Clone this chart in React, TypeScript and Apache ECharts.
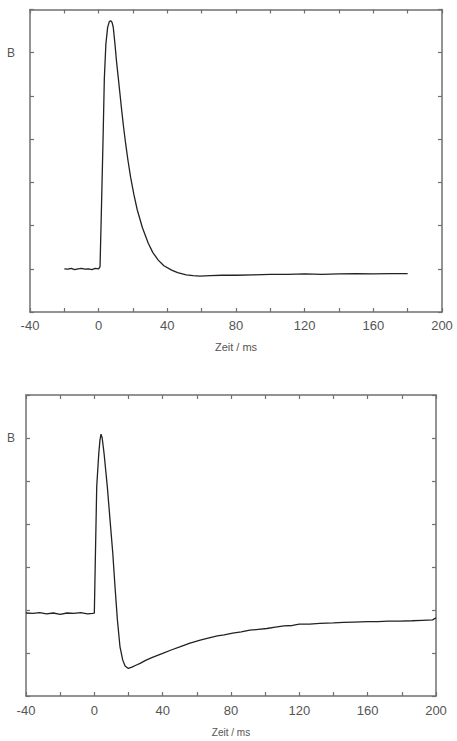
import React, { useEffect, useRef } from "react";
import * as echarts from "echarts";

// Top panel: time (ms) and signal (arbitrary units; tick 6 = "B")
const topTime = [-20, -18, -16, -14, -12, -10, -8, -6, -4, -2, 0, 0.8, 1.5, 2.5, 3.3, 4.2, 5.2, 6.2, 7.0, 7.8, 8.5, 9.5, 10.4, 11.4, 12.4, 13.4, 14.5, 15.7, 17.1, 18.6, 20.5, 22.5, 25.5, 28.9, 31.5, 34.7, 38, 42.5, 46, 51, 55, 59, 65, 72, 80, 90, 100, 110, 120, 130, 140, 150, 160, 170, 180];
const topValue = [1.0, 0.99, 1.01, 0.98, 1.0, 1.01, 0.99, 1.0, 0.98, 1.01, 1.0, 1.05, 2.2, 3.9, 5.4, 6.2, 6.58, 6.72, 6.74, 6.7, 6.59, 6.2, 5.8, 5.43, 5.05, 4.67, 4.28, 3.9, 3.5, 3.12, 2.72, 2.36, 1.95, 1.59, 1.38, 1.2, 1.07, 0.97, 0.91, 0.86, 0.84, 0.83, 0.84, 0.85, 0.85, 0.86, 0.87, 0.87, 0.88, 0.87, 0.88, 0.89, 0.88, 0.89, 0.89];

// Bottom panel
const bottomTime = [-40, -36, -32, -28, -24, -20, -16, -12, -8, -4, -1, 0, 0.5, 1.4, 2.6, 3.3, 3.9, 4.6, 5.7, 7.6, 9.2, 10.8, 12.1, 13.5, 15.0, 16.6, 18.0, 19.9, 22, 24, 26.8, 30, 34, 40, 45, 50, 56, 62, 66, 72, 76, 81, 86, 91, 96, 101, 106, 111, 116, 120, 126, 132, 140, 146, 152, 160, 166, 172, 179, 186, 192, 198, 200];
const bottomValue = [1.93, 1.92, 1.94, 1.91, 1.93, 1.9, 1.93, 1.92, 1.94, 1.91, 1.92, 1.93, 3.0, 4.87, 5.64, 5.95, 6.09, 6.0, 5.64, 4.87, 4.09, 3.32, 2.54, 1.77, 1.15, 0.84, 0.7, 0.64, 0.67, 0.71, 0.76, 0.83, 0.9, 0.99, 1.07, 1.14, 1.23, 1.3, 1.34, 1.4, 1.42, 1.46, 1.49, 1.53, 1.55, 1.57, 1.6, 1.63, 1.64, 1.67, 1.67, 1.69, 1.7, 1.71, 1.72, 1.73, 1.73, 1.74, 1.74, 1.75, 1.76, 1.77, 1.82];

const xTickLabels = [-40, 0, 40, 80, 120, 160, 200];
const yLabelLevel = 6;
const yLabelText = "B";
const xAxisName = "Zeit / ms";

const AXIS_COLOR = "#707070";
const TEXT_COLOR = "#555555";
const FONT = "'Liberation Sans', Arial, sans-serif";

export default function App() {
  const ref = useRef<HTMLDivElement>(null);

  useEffect(() => {
    if (!ref.current) return;
    const chart = echarts.init(ref.current, undefined, { renderer: "svg" });

    const axisLine = { show: true, onZero: false, lineStyle: { color: AXIS_COLOR, width: 1.5 } };
    const axisTick = { show: true, inside: true, length: 4, lineStyle: { color: AXIS_COLOR, width: 1.2 } };

    const xBottom = (gridIndex: number, labelMargin: number, nameGap: number, nameSize: number) => ({
      type: "value",
      gridIndex,
      position: "bottom",
      min: -40,
      max: 200,
      interval: 20,
      axisLine,
      axisTick,
      splitLine: { show: false },
      axisLabel: {
        margin: labelMargin,
        fontSize: 13,
        fontFamily: FONT,
        color: TEXT_COLOR,
        formatter: (v: number) => (xTickLabels.indexOf(v) >= 0 ? String(v) : ""),
      },
      name: xAxisName,
      nameLocation: "middle",
      nameGap,
      nameTextStyle: { fontSize: nameSize, fontFamily: FONT, color: TEXT_COLOR },
    });
    const xTop = (gridIndex: number) => ({
      type: "value",
      gridIndex,
      position: "top",
      min: -40,
      max: 200,
      interval: 20,
      axisLine,
      axisTick,
      splitLine: { show: false },
      axisLabel: { show: false },
    });
    const yLeft = (gridIndex: number, labelMargin: number) => ({
      type: "value",
      gridIndex,
      position: "left",
      min: 0,
      max: 7,
      interval: 1,
      axisLine,
      axisTick,
      splitLine: { show: false },
      axisLabel: {
        margin: labelMargin,
        fontSize: 12,
        fontFamily: FONT,
        color: TEXT_COLOR,
        formatter: (v: number) => (v === yLabelLevel ? yLabelText : ""),
      },
    });
    const yRight = (gridIndex: number) => ({
      type: "value",
      gridIndex,
      position: "right",
      min: 0,
      max: 7,
      interval: 1,
      axisLine,
      axisTick,
      splitLine: { show: false },
      axisLabel: { show: false },
    });

    const topData = topTime.map((t, i) => [t, topValue[i]]);
    const bottomData = bottomTime.map((t, i) => [t, bottomValue[i]]);

    chart.setOption({
      animation: false,
      backgroundColor: "#ffffff",
      grid: [
        { left: 30, top: 9.5, width: 412, height: 302.5 },
        { left: 26, top: 395, width: 410, height: 301 },
      ],
      xAxis: [xBottom(0, 7, 29, 11), xTop(0), xBottom(1, 8, 31, 10), xTop(1)],
      yAxis: [yLeft(0, 15), yRight(0), yLeft(1, 11), yRight(1)],
      series: [
        {
          type: "line",
          xAxisIndex: 0,
          yAxisIndex: 0,
          data: topData,
          showSymbol: false,
          smooth: false,
          lineStyle: { color: "#222222", width: 1.3 },
        },
        {
          type: "line",
          xAxisIndex: 2,
          yAxisIndex: 2,
          data: bottomData,
          showSymbol: false,
          smooth: false,
          lineStyle: { color: "#222222", width: 1.3 },
        },
      ],
    });

    return () => chart.dispose();
  }, []);

  return (
    <div
      ref={ref}
      style={{ position: "absolute", left: 0, top: 0, width: 457, height: 741, background: "#fff" }}
    />
  );
}
